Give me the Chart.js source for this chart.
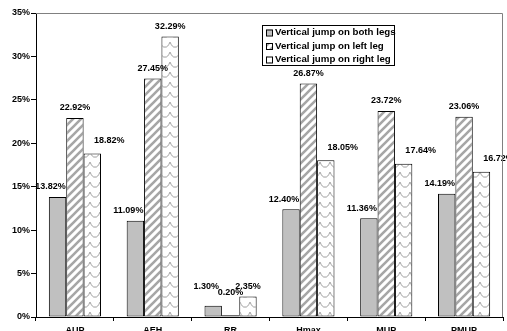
<!DOCTYPE html>
<html>
<head>
<meta charset="utf-8">
<script src="https://cdn.jsdelivr.net/npm/chart.js@4"></script>
<style>
  body { margin: 0; background: #fff; }
  #wrap { width: 507px; height: 331px; }
</style>
</head>
<body>
<div id="wrap"><canvas id="chart" width="507" height="331"></canvas></div>
<script>
const categories = ["AUP", "AEH", "RR", "Hmax", "MUP", "PMUP"];
const bothLegs = [13.82, 11.09, 1.30, 12.40, 11.36, 14.19];
const leftLeg = [22.92, 27.45, 0.20, 26.87, 23.72, 23.06];
const rightLeg = [18.82, 32.29, 2.35, 18.05, 17.64, 16.72];
const seriesNames = ["Vertical jump on both legs", "Vertical jump on left leg", "Vertical jump on right leg"];
const yTicks = [0, 5, 10, 15, 20, 25, 30, 35];

const FONT = { family: "'Liberation Sans', Arial, sans-serif", size: 9, weight: "bold" };
const fontStr = "bold 9px 'Liberation Sans', Arial, sans-serif";
const legendFont = "bold 9.7px 'Liberation Sans', Arial, sans-serif";

// fill patterns
function makeHatch() {
  const c = document.createElement("canvas");
  c.width = 8; c.height = 8;
  const g = c.getContext("2d");
  g.fillStyle = "#fff";
  g.fillRect(0, 0, 8, 8);
  g.strokeStyle = "#a6a6a6";
  g.lineWidth = 2.6;
  g.beginPath();
  g.moveTo(-2, 10); g.lineTo(10, -2);
  g.moveTo(-6, 6); g.lineTo(6, -6);
  g.moveTo(2, 14); g.lineTo(14, 2);
  g.stroke();
  return g.createPattern(c, "repeat");
}

function makeWave() {
  const c = document.createElement("canvas");
  c.width = 10; c.height = 10;
  const g = c.getContext("2d");
  g.fillStyle = "#fff";
  g.fillRect(0, 0, 10, 10);
  g.strokeStyle = "#a0a0a0";
  g.lineWidth = 1;
  g.beginPath();
  g.moveTo(0, 2);
  g.quadraticCurveTo(2.5, 8, 5, 7);
  g.quadraticCurveTo(7.5, 8, 10, 2);
  g.stroke();
  return g.createPattern(c, "repeat");
}

const fills = ["#c0c0c0", makeHatch(), makeWave()];
const seriesData = [bothLegs, leftLeg, rightLeg];

const frame = {
  id: "frame",
  afterDraw(chart) {
    const { ctx, chartArea: a } = chart;
    ctx.save();
    ctx.strokeStyle = "#808080";
    ctx.lineWidth = 1;
    ctx.beginPath();
    ctx.moveTo(a.left, a.top + 0.5);
    ctx.lineTo(a.right - 0.5, a.top + 0.5);
    ctx.lineTo(a.right - 0.5, a.bottom);
    ctx.stroke();
    ctx.restore();
  }
};

const barLabels = {
  id: "barLabels",
  afterDatasetsDraw(chart) {
    const { ctx } = chart;
    const base = chart.scales.y.getPixelForValue(0);
    ctx.save();
    ctx.font = fontStr;
    ctx.fillStyle = "#000";
    ctx.textAlign = "center";
    ctx.textBaseline = "middle";
    chart.data.datasets.forEach((ds, i) => {
      chart.getDatasetMeta(i).data.forEach((bar, j) => {
        let dx = 0, dy = 10;
        if (i === 0) dx = -7;
        if (i === 2 && leftLeg[j] > rightLeg[j]) { dx = 17; dy = 13; }
        const floor = i === 1 ? base - 24 : base - 30;
        const y = Math.min(bar.y - dy, floor);
        ctx.fillText(ds.data[j].toFixed(2) + "%", bar.x + dx, y);
      });
    });
    ctx.restore();
  }
};

const boxLegend = {
  id: "boxLegend",
  afterDraw(chart) {
    const { ctx } = chart;
    const x0 = 262, y0 = 25, w = 132, h = 40;
    ctx.save();
    ctx.fillStyle = "#fff";
    ctx.fillRect(x0, y0, w, h);
    ctx.strokeStyle = "#000";
    ctx.lineWidth = 1;
    ctx.strokeRect(x0 + 0.5, y0 + 0.5, w, h);
    ctx.font = legendFont;
    ctx.textBaseline = "middle";
    chart.data.datasets.forEach((ds, i) => {
      const cy = y0 + 7.5 + i * 13.5;
      ctx.fillStyle = ds.backgroundColor;
      ctx.fillRect(x0 + 4, cy - 3, 6, 6);
      ctx.strokeStyle = "#000";
      ctx.strokeRect(x0 + 4.5, cy - 2.5, 6, 6);
      ctx.fillStyle = "#000";
      ctx.fillText(ds.label, x0 + 13, cy);
    });
    ctx.restore();
  }
};

new Chart(document.getElementById("chart"), {
  type: "bar",
  data: {
    labels: categories,
    datasets: seriesData.map((d, i) => ({
      label: seriesNames[i],
      data: d,
      backgroundColor: fills[i],
      borderColor: "#000",
      borderWidth: 1,
      borderSkipped: false,
      categoryPercentage: 0.67,
      barPercentage: 1.0
    }))
  },
  options: {
    responsive: false,
    animation: false,
    devicePixelRatio: 1,
    layout: { padding: { top: 13, right: 4, left: 0, bottom: 0 } },
    plugins: {
      legend: { display: false },
      tooltip: { enabled: false }
    },
    scales: {
      x: {
        afterFit(scale) { scale.height = 14; },
        grid: {
          offset: true,
          drawOnChartArea: false,
          tickLength: 4,
          tickColor: "#000"
        },
        border: { color: "#000", width: 1 },
        ticks: { color: "#000", font: FONT, padding: 4, maxRotation: 0 }
      },
      y: {
        min: 0,
        max: 35,
        afterFit(scale) { scale.width = 36; },
        afterBuildTicks(scale) { scale.ticks = yTicks.map(v => ({ value: v })); },
        grid: {
          drawOnChartArea: false,
          tickLength: 5,
          tickColor: "#000"
        },
        border: { color: "#000", width: 1 },
        ticks: {
          color: "#000",
          font: FONT,
          padding: 1,
          callback: v => v + "%"
        }
      }
    }
  },
  plugins: [frame, barLabels, boxLegend]
});
</script>
</body>
</html>
